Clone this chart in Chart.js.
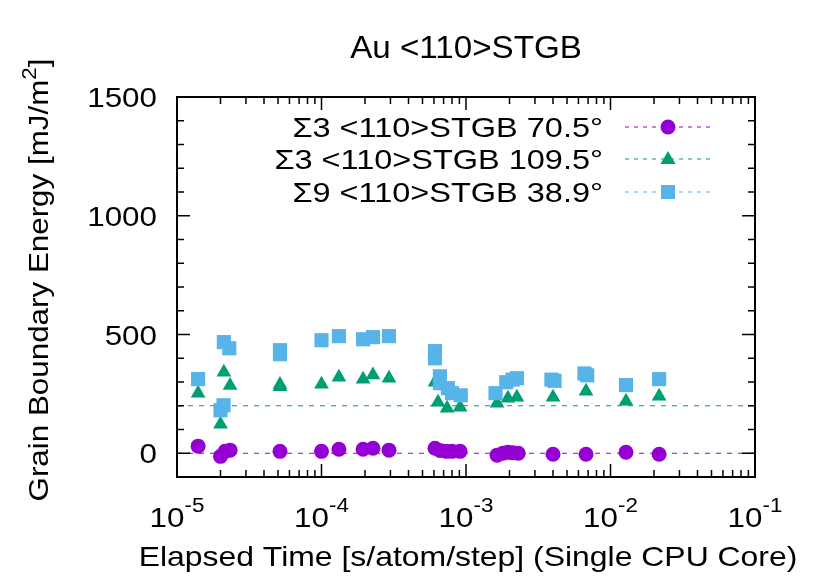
<!DOCTYPE html>
<html><head><meta charset="utf-8">
<script src="https://cdn.jsdelivr.net/npm/chart.js@4.4.1/dist/chart.umd.min.js"></script>
<style>html,body{margin:0;padding:0;background:#fff}#wrap{width:830px;height:581px;position:relative}</style>
</head><body><div id="wrap"><canvas id="c"></canvas></div>
<script>
// ---- texts ----
const chartTitle = "Au <110>STGB";
const xAxisTitle = "Elapsed Time [s/atom/step] (Single CPU Core)";
const yAxisTitleParts = ["Grain Boundary Energy [mJ/m", "2", "]"];
const seriesNames = ["Σ3 <110>STGB 70.5°", "Σ3 <110>STGB 109.5°", "Σ9 <110>STGB 38.9°"];
// ---- ticks ----
const xTickExponents = [-5, -4, -3, -2, -1];
const yTickValues = [0, 500, 1000, 1500];
const yMinorStep = 100;
// ---- reference levels (dashed lines) ----
const refLevelPurple = 0;
const refLevelGreen = 200;
// ---- series: Σ3 70.5° ----
const s1Time   = [1.40e-5, 2.0e-5, 2.15e-5, 2.33e-5, 5.16e-5, 1.0e-4, 1.32e-4, 1.94e-4, 2.27e-4, 2.93e-4, 6.1e-4, 6.6e-4, 7.3e-4, 8.0e-4, 9.1e-4, 1.64e-3, 1.80e-3, 1.95e-3, 2.1e-3, 2.3e-3, 4.0e-3, 6.77e-3, 1.28e-2, 2.17e-2];
const s1Energy = [30, -13, 8, 13, 8, 8, 17, 17, 21, 13, 21, 12, 8, 8, 8, -8, 0, 4, 2, 0, -4, -4, 4, -4];
// ---- series: Σ3 109.5° ----
const s2Time   = [1.40e-5, 2.0e-5, 2.11e-5, 2.33e-5, 5.16e-5, 5.16e-5, 1.0e-4, 1.32e-4, 1.94e-4, 2.27e-4, 2.93e-4, 6.1e-4, 6.4e-4, 7.4e-4, 9.1e-4, 1.64e-3, 1.95e-3, 2.25e-3, 4.0e-3, 6.77e-3, 1.28e-2, 2.17e-2];
const s2Energy = [253, 122, 341, 285, 290, 280, 291, 320, 312, 329, 316, 299, 215, 190, 194, 211, 232, 236, 236, 261, 219, 240];
// ---- series: Σ9 38.9° ----
const s3Time   = [1.40e-5, 2.0e-5, 2.1e-5, 2.11e-5, 2.3e-5, 5.16e-5, 5.16e-5, 1.0e-4, 1.32e-4, 1.94e-4, 2.27e-4, 2.93e-4, 6.1e-4, 6.1e-4, 6.6e-4, 6.6e-4, 7.5e-4, 8.0e-4, 9.2e-4, 1.6e-3, 1.9e-3, 2.1e-3, 2.25e-3, 3.9e-3, 4.1e-3, 6.6e-3, 6.9e-3, 1.28e-2, 2.17e-2];
const s3Energy = [312, 181, 202, 468, 442, 434, 417, 476, 493, 480, 489, 493, 430, 400, 324, 295, 274, 253, 244, 253, 299, 310, 316, 310, 305, 336, 328, 287, 312];

const colors = ["#9400d3", "#009e73", "#56b4e9"];
const pts = (xs, ys) => xs.map((x, i) => ({x: x, y: ys[i]}));

const FONT = '"Liberation Sans", Arial, sans-serif';
const SX = 1.12;
function txt(ctx, s, x, y, size, align, sx) {
  ctx.save();
  ctx.font = size + 'px ' + FONT;
  const w = ctx.measureText(s).width * sx;
  const x0 = align === 'right' ? x - w : align === 'center' ? x - w / 2 : x;
  ctx.translate(x0, y); ctx.scale(sx, 1);
  ctx.textAlign = 'left'; ctx.textBaseline = 'alphabetic';
  ctx.fillStyle = '#000';
  ctx.fillText(s, 0, 0);
  ctx.restore();
  return w;
}
function measure(ctx, s, size, sx) { ctx.save(); ctx.font = size + 'px ' + FONT; const w = ctx.measureText(s).width * sx; ctx.restore(); return w; }

const decor = {
  id: 'decor',
  afterDraw(chart) {
    const ctx = chart.ctx, a = chart.chartArea;
    const xs = chart.scales.x, ys = chart.scales.y;
    ctx.save();
    ctx.strokeStyle = '#000';
    // ticks
    ctx.lineWidth = 1.5;
    const tick = (x1, y1, x2, y2) => { ctx.beginPath(); ctx.moveTo(x1, y1); ctx.lineTo(x2, y2); ctx.stroke(); };
    const MAJ = 13, MIN = 7;
    for (let v = -100; v <= 1500; v += yMinorStep) {
      const y = ys.getPixelForValue(v);
      const L = yTickValues.includes(v) ? MAJ : MIN;
      tick(a.left, y, a.left + L, y); tick(a.right, y, a.right - L, y);
    }
    for (let i = 0; i < xTickExponents.length; i++) {
      const e = xTickExponents[i];
      const x = xs.getPixelForValue(Math.pow(10, e));
      tick(x, a.bottom, x, a.bottom - MAJ); tick(x, a.top, x, a.top + MAJ);
      if (i < xTickExponents.length - 1) {
        for (let k = 2; k <= 9; k++) {
          const xm = xs.getPixelForValue(k * Math.pow(10, e));
          tick(xm, a.bottom, xm, a.bottom - MIN); tick(xm, a.top, xm, a.top + MIN);
        }
      }
    }
    // frame
    ctx.lineWidth = 2;
    ctx.strokeRect(a.left, a.top, a.right - a.left, a.bottom - a.top);
    // y tick labels
    yTickValues.forEach(v => {
      const y = ys.getPixelForValue(v);
      txt(ctx, String(v), 157, y + 10, 28, 'right', SX);
    });
    // x tick labels: 10^e
    xTickExponents.forEach(e => {
      const x = xs.getPixelForValue(Math.pow(10, e));
      const base = "10", sup = String(e);
      const wb = measure(ctx, base, 28, SX), wsup = measure(ctx, sup, 20, SX);
      const x0 = x - (wb + wsup) / 2;
      txt(ctx, base, x0, 527, 28, 'left', SX);
      txt(ctx, sup, x0 + wb, 512, 20, 'left', SX);
    });
    // x axis title
    txt(ctx, xAxisTitle, 468, 566, 28, 'center', 1.14);
    // title
    txt(ctx, chartTitle, 466, 58, 31, 'center', 1.07);
    // y axis title (rotated)
    ctx.save();
    ctx.translate(48, 0);
    ctx.rotate(-Math.PI / 2);
    const w1 = measure(ctx, yAxisTitleParts[0], 28, SX), w2 = measure(ctx, yAxisTitleParts[1], 20, SX), w3 = measure(ctx, yAxisTitleParts[2], 28, SX);
    const tot = w1 + w2 + w3;
    const cy = 280;
    let p = -cy - tot / 2;
    txt(ctx, yAxisTitleParts[0], p, 0, 28, 'left', SX); p += w1;
    txt(ctx, yAxisTitleParts[1], p, -12, 20, 'left', SX); p += w2;
    txt(ctx, yAxisTitleParts[2], p, 0, 28, 'left', SX);
    ctx.restore();
    // legend
    const rowsY = [127, 159, 192];
    seriesNames.forEach((name, i) => {
      const y = rowsY[i];
      txt(ctx, name, 603, y + 10, 28, 'right', 1.16);
      ctx.save();
      ctx.strokeStyle = colors[i]; ctx.lineWidth = 1.2; ctx.setLineDash([4, 5]);
      ctx.beginPath(); ctx.moveTo(625, y); ctx.lineTo(711, y); ctx.stroke();
      ctx.restore();
      ctx.save();
      ctx.fillStyle = colors[i];
      const cx = 668;
      ctx.beginPath();
      if (i === 0) { ctx.arc(cx, y, 7.5, 0, Math.PI * 2); }
      else if (i === 1) { ctx.moveTo(cx, y - 8); ctx.lineTo(cx + 7.5, y + 5); ctx.lineTo(cx - 7.5, y + 5); ctx.closePath(); }
      else { ctx.rect(cx - 7, y - 7, 14, 14); }
      ctx.fill();
      ctx.restore();
    });
    ctx.restore();
  }
};

new Chart(document.getElementById('c'), {
  type: 'scatter',
  data: {
    datasets: [
      { type: 'line', data: [{x: 1e-5, y: refLevelPurple}, {x: 1e-1, y: refLevelPurple}], borderColor: colors[0], borderWidth: 1.2, borderDash: [5, 6], pointRadius: 0, fill: false, order: 5 },
      { type: 'line', data: [{x: 1e-5, y: refLevelGreen}, {x: 1e-1, y: refLevelGreen}], borderColor: colors[1], borderWidth: 1.2, borderDash: [5, 6], pointRadius: 0, fill: false, order: 4 },
      { label: seriesNames[0], data: pts(s1Time, s1Energy), pointStyle: 'circle', pointRadius: 7.5, backgroundColor: colors[0], borderColor: colors[0], borderWidth: 0, order: 3 },
      { label: seriesNames[1], data: pts(s2Time, s2Energy), pointStyle: 'triangle', pointRadius: 8.5, backgroundColor: colors[1], borderColor: colors[1], borderWidth: 0, order: 2 },
      { label: seriesNames[2], data: pts(s3Time, s3Energy), pointStyle: 'rect', pointRadius: 10, backgroundColor: colors[2], borderColor: colors[2], borderWidth: 0, order: 1 }
    ]
  },
  options: {
    responsive: true, maintainAspectRatio: false, animation: false, events: [],
    layout: { padding: { left: 177, right: 75, top: 97, bottom: 104 } },
    plugins: { legend: { display: false }, tooltip: { enabled: false }, title: { display: false } },
    scales: {
      x: { type: 'logarithmic', min: 1e-5, max: 1e-1, display: false },
      y: { type: 'linear', min: -100, max: 1500, display: false }
    }
  },
  plugins: [decor]
});
</script>
</body></html>
